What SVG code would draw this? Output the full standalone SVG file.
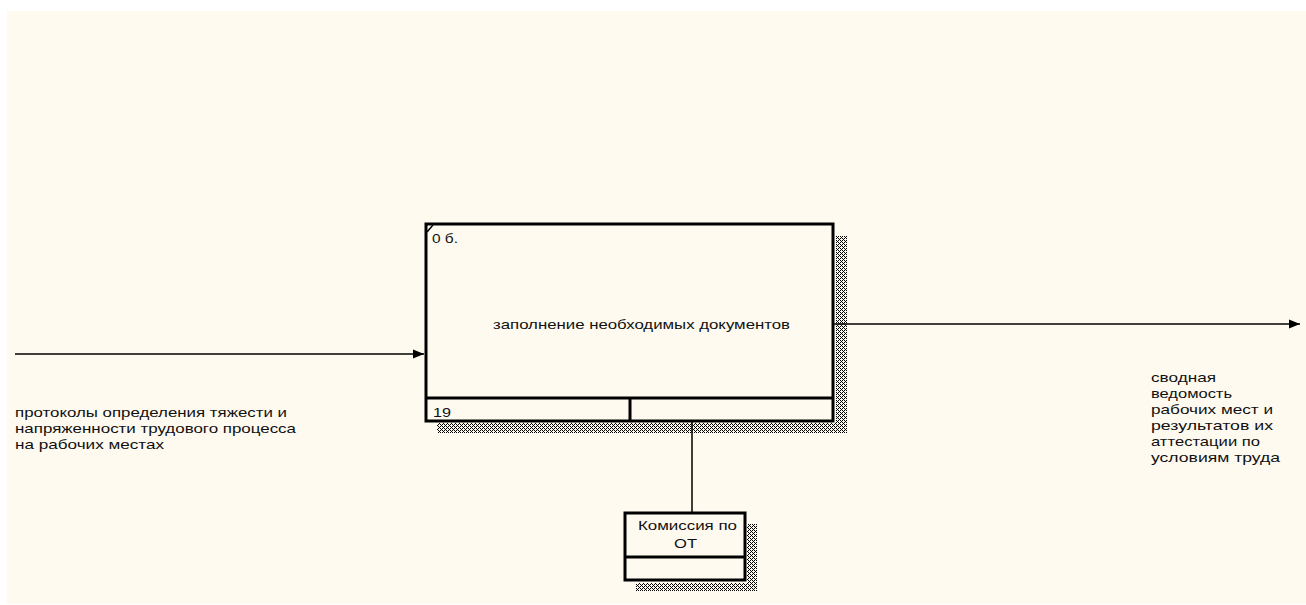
<svg xmlns="http://www.w3.org/2000/svg" width="1306" height="605" viewBox="0 0 1306 605">
<style>
.t{font-family:"Liberation Sans",Arial,sans-serif;font-size:13px;fill:#111}
.box{fill:#FFFAF0;stroke:#000;stroke-width:3}
.ln{stroke:#000;stroke-width:1.5;fill:none}
.sh{fill:url(#dots)}
</style>
<defs>
<pattern id="dots" width="4" height="4" patternUnits="userSpaceOnUse">
<rect x="0" y="0" width="1" height="1" fill="#000"/>
<rect x="1" y="1" width="1" height="1" fill="#000"/>
<rect x="2" y="2" width="1" height="1" fill="#000"/>
<rect x="2" y="0" width="1" height="1" fill="#000"/>
<rect x="0" y="2" width="1" height="1" fill="#000"/>
<rect x="3" y="3" width="1" height="1" fill="#000"/>
</pattern>
<marker id="ah" markerWidth="11" markerHeight="10" refX="11" refY="5" orient="auto" markerUnits="userSpaceOnUse">
<path d="M0,0.5 L11,5 L0,9.5 Z" fill="#000"/>
</marker>
</defs>
<rect x="0" y="0" width="1306" height="605" fill="#fff"/>
<rect x="7" y="11" width="1299" height="593" fill="#FFFAF0"/>

<g id="connectors">
<line class="ln" x1="15" y1="354" x2="424" y2="354" marker-end="url(#ah)"/>
<line class="ln" x1="834" y1="324" x2="1300" y2="324" marker-end="url(#ah)"/>
<line class="ln" x1="692" y1="421" x2="692" y2="512"/>
</g>

<g id="node-main">
<rect class="sh" x="836" y="236" width="11" height="197"/>
<rect class="sh" x="437" y="423" width="410" height="10"/>
<rect class="box" x="426" y="224" width="407" height="197"/>
<line x1="426" y1="398" x2="833" y2="398" stroke="#000" stroke-width="3"/>
<line x1="630" y1="398" x2="630" y2="421" stroke="#000" stroke-width="3"/>
<line x1="427" y1="232" x2="433" y2="225" stroke="#000" stroke-width="1.5"/>
<text class="t" x="432" y="243" textLength="26" lengthAdjust="spacingAndGlyphs">0 б.</text>
<text class="t" x="493" y="329" textLength="297" lengthAdjust="spacingAndGlyphs">заполнение необходимых документов</text>
<text class="t" x="433" y="417" textLength="18" lengthAdjust="spacingAndGlyphs">19</text>
</g>

<g id="node-commission">
<rect class="sh" x="747" y="524" width="10" height="67"/>
<rect class="sh" x="636" y="583" width="121" height="8"/>
<rect class="box" x="625" y="513" width="120" height="67"/>
<line x1="625" y1="557" x2="745" y2="557" stroke="#000" stroke-width="3"/>
<text class="t" x="638" y="530" textLength="99" lengthAdjust="spacingAndGlyphs">Комиссия по</text>
<text class="t" x="674" y="548" textLength="23" lengthAdjust="spacingAndGlyphs">ОТ</text>
</g>

<g id="label-input">
<text class="t" x="15" y="417" textLength="272" lengthAdjust="spacingAndGlyphs">протоколы определения тяжести и</text>
<text class="t" x="15" y="433" textLength="281" lengthAdjust="spacingAndGlyphs">напряженности трудового процесса</text>
<text class="t" x="15" y="449" textLength="149" lengthAdjust="spacingAndGlyphs">на рабочих местах</text>
</g>

<g id="label-output">
<text class="t" x="1151" y="382" textLength="65" lengthAdjust="spacingAndGlyphs">сводная</text>
<text class="t" x="1151" y="398" textLength="81" lengthAdjust="spacingAndGlyphs">ведомость</text>
<text class="t" x="1151" y="414" textLength="122" lengthAdjust="spacingAndGlyphs">рабочих мест и</text>
<text class="t" x="1151" y="430" textLength="122" lengthAdjust="spacingAndGlyphs">результатов их</text>
<text class="t" x="1151" y="446" textLength="109" lengthAdjust="spacingAndGlyphs">аттестации по</text>
<text class="t" x="1151" y="462" textLength="129" lengthAdjust="spacingAndGlyphs">условиям труда</text>
</g>
</svg>
